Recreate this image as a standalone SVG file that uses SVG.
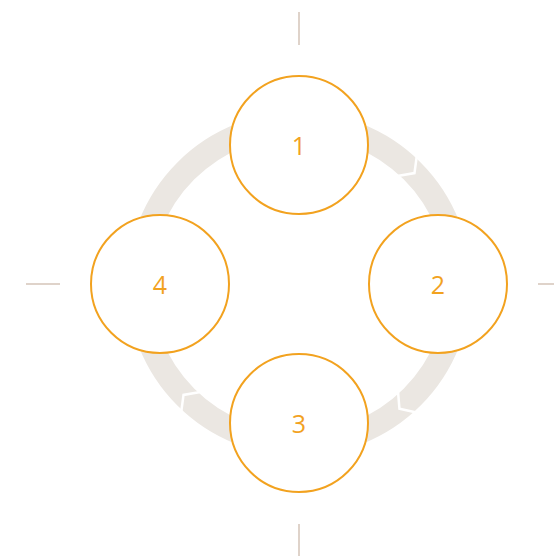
<svg xmlns="http://www.w3.org/2000/svg" width="554" height="556" viewBox="0 0 554 556">
  <style>
    .tick { stroke: #dfd3ca; stroke-width: 2; fill: none; }
    .ring { stroke: #ebe7e2; stroke-width: 24; fill: none; }
    .gap { stroke: #ffffff; stroke-width: 2.5; fill: none; stroke-linejoin: miter; }
    .node circle { fill: #ffffff; stroke: #f2a21f; stroke-width: 2; }
    .node text { fill: #f2a21f; font-family: "Open Sans", "Liberation Sans", sans-serif; font-size: 25px; text-anchor: middle; }
  </style>
  <defs>
    <polyline id="chev" points="-5,-145 6,-160 -5,-175"/>
  </defs>
  <g id="axes">
    <line class="tick" x1="299" y1="12" x2="299" y2="45"/>
    <line class="tick" x1="299" y1="524" x2="299" y2="556"/>
    <line class="tick" x1="26" y1="284" x2="60" y2="284"/>
    <line class="tick" x1="538" y1="284" x2="554" y2="284"/>
  </g>
  <g id="connectors">
    <circle class="ring" cx="299" cy="284" r="160"/>
    <g transform="translate(299,284)">
      <use href="#chev" class="gap" transform="rotate(44)"/>
      <use href="#chev" class="gap" transform="rotate(139)"/>
      <use href="#chev" class="gap" transform="rotate(224)"/>
    </g>
  </g>
  <g id="node1" class="node">
    <circle cx="299" cy="145" r="69"/>
    <text x="299" y="155">1</text>
  </g>
  <g id="node2" class="node">
    <circle cx="438" cy="284" r="69"/>
    <text x="438" y="294">2</text>
  </g>
  <g id="node3" class="node">
    <circle cx="299" cy="423" r="69"/>
    <text x="299" y="433">3</text>
  </g>
  <g id="node4" class="node">
    <circle cx="160" cy="284" r="69"/>
    <text x="160" y="294">4</text>
  </g>
</svg>
